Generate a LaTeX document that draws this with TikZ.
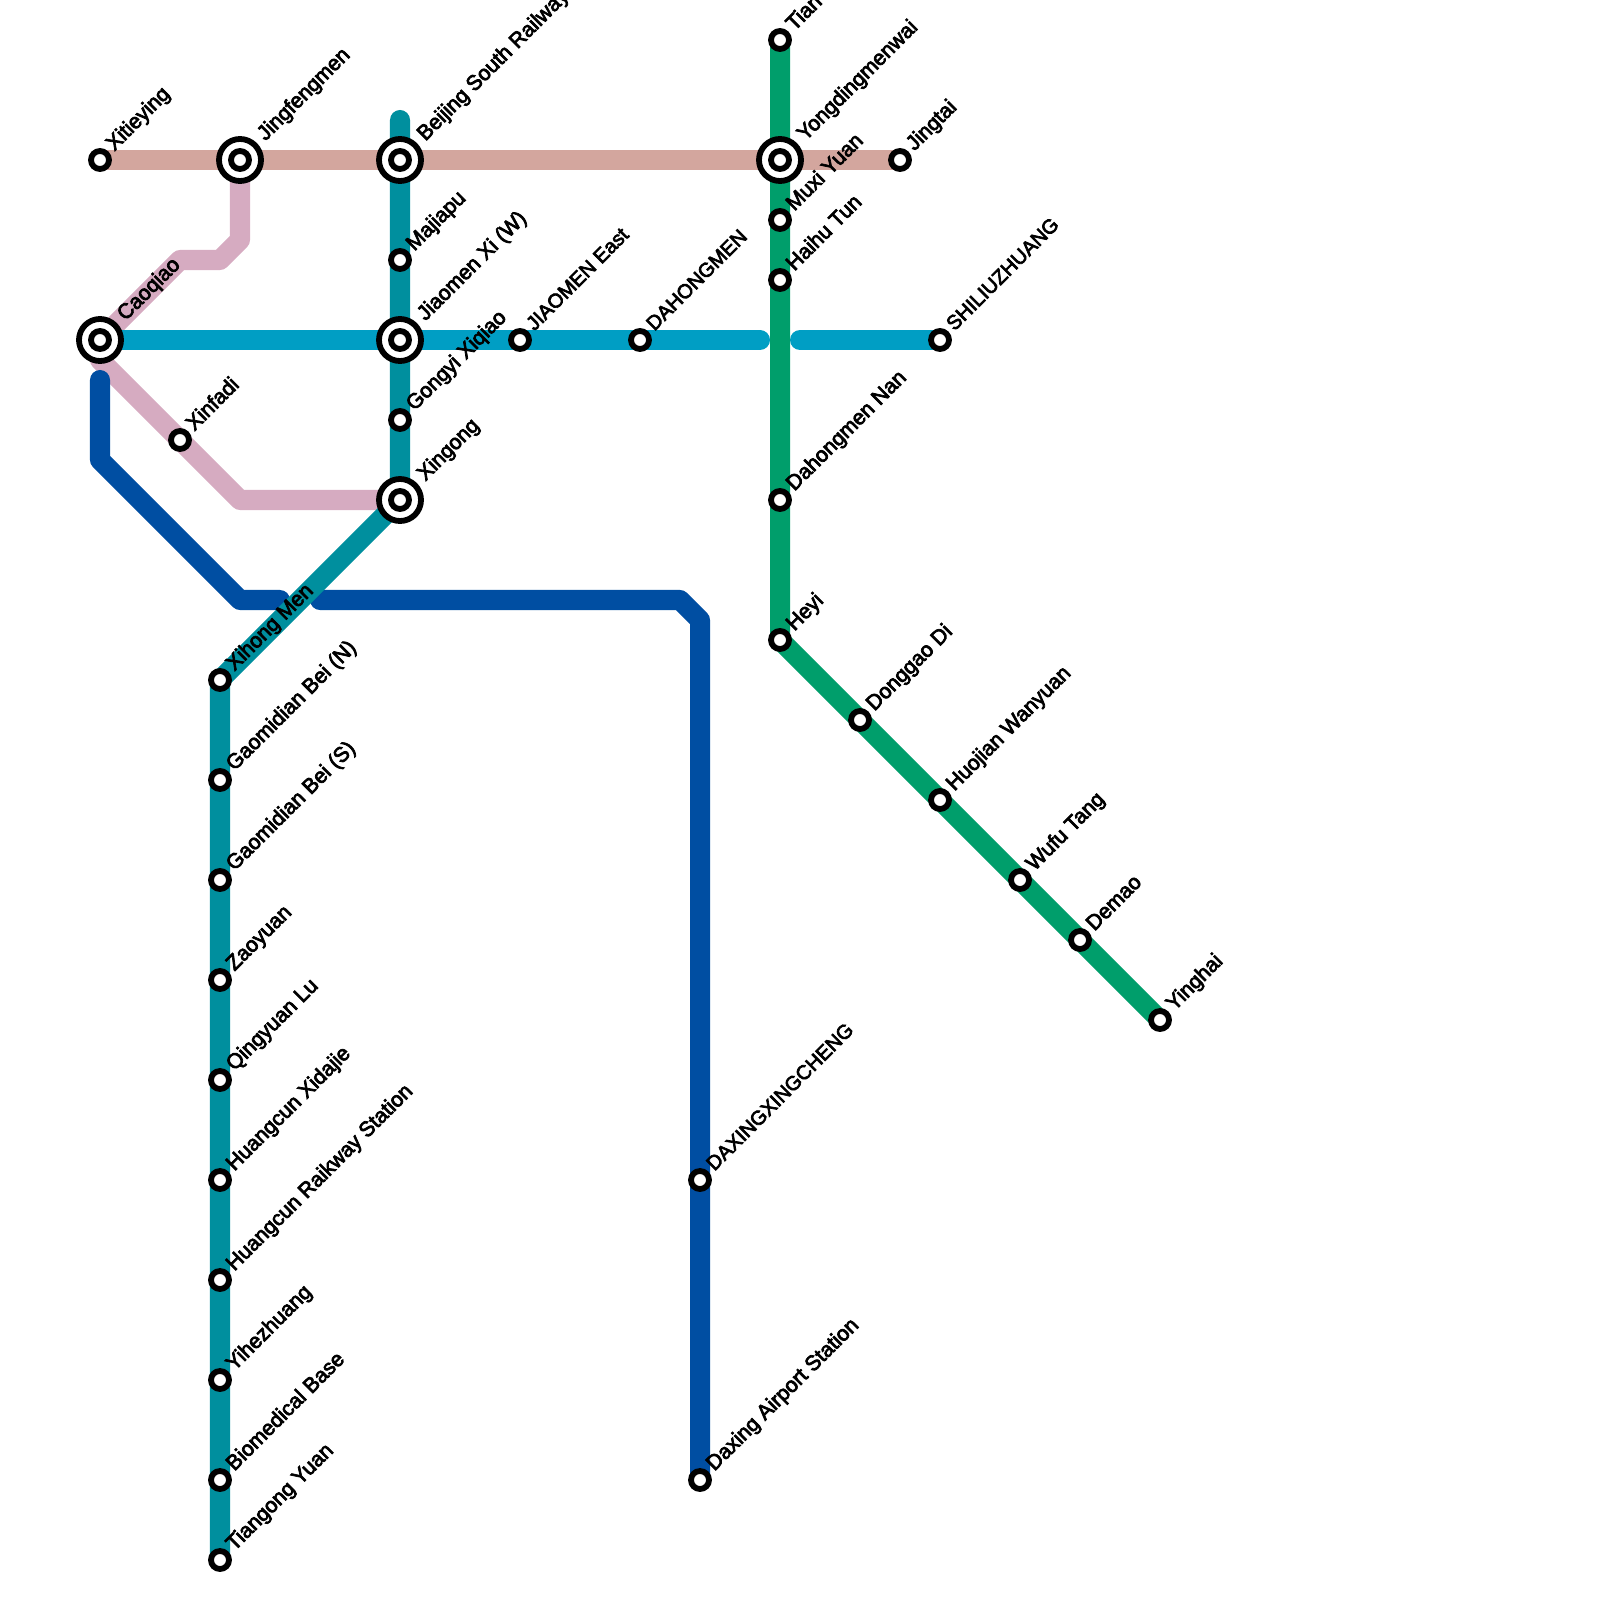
\documentclass[tikz,border=0pt]{standalone}
\usepackage{fontspec}
\setmainfont{Liberation Sans}[FakeBold=3.5]
\usetikzlibrary{backgrounds}
\definecolor{lineBrown}{HTML}{D3A69E}
\definecolor{linePink}{HTML}{D6ABC1}
\definecolor{lineTeal}{HTML}{008F9E}
\definecolor{lineCyan}{HTML}{009EC4}
\definecolor{lineBlue}{HTML}{004EA2}
\definecolor{lineGreen}{HTML}{009E6B}
\tikzset{
    metro/.style = {line width = 0.2cm, line join = round, line cap = round},
    stn/.style = {circle, draw = black, line width = 0.058cm, fill = white, inner sep = 0, outer sep = 0, minimum size = 0.18cm},
    xchg/.style = {stn, minimum size = 0.42cm},
    lbl/.style = {xshift = 0.02cm, anchor = base west, rotate = 45, inner sep = 0, font = \fontsize{6}{7}\selectfont},
    lblcaps/.style = {lbl, font = \fontsize{5.7}{7}\selectfont}
}
\begin{document}
\begin{tikzpicture}[x = 0.01cm, y = -0.01cm]
    \useasboundingbox (0, 0) rectangle (1600, 1600);
    % interchanges
    \node [xchg] (jingfengmen) at (240, 160) {};
    \node [xchg] (beijingsouth) at (400, 160) {};
    \node [xchg] (yongdingmenwai) at (780, 160) {};
    \node [xchg] (caoqiao) at (100, 340) {};
    \node [xchg] (jiaomenxi) at (400, 340) {};
    \node [xchg] (xingong) at (400, 500) {};
    \node [stn] (jingfengmenin) at (240, 160) {};
    \node [stn] (beijingsouthin) at (400, 160) {};
    \node [stn] (yongdingmenwaiin) at (780, 160) {};
    \node [stn] (caoqiaoin) at (100, 340) {};
    \node [stn] (jiaomenxiin) at (400, 340) {};
    \node [stn] (xingongin) at (400, 500) {};
    % plain stations
    \node [stn] (xitieying) at (100, 160) {};
    \node [stn] (jingtai) at (900, 160) {};
    \node [stn] (tian) at (780, 40) {};
    \node [stn] (muxiyuan) at (780, 220) {};
    \node [stn] (haihutun) at (780, 280) {};
    \node [stn] (majiapu) at (400, 260) {};
    \node [stn] (gongyixiqiao) at (400, 420) {};
    \node [stn] (xinfadi) at (180, 440) {};
    \node [stn] (jiaomeneast) at (520, 340) {};
    \node [stn] (dahongmen) at (640, 340) {};
    \node [stn] (shiliuzhuang) at (940, 340) {};
    \node [stn] (dahongmennan) at (780, 500) {};
    \node [stn] (heyi) at (780, 640) {};
    \node [stn] (donggaodi) at (860, 720) {};
    \node [stn] (huojian) at (940, 800) {};
    \node [stn] (wufutang) at (1020, 880) {};
    \node [stn] (demao) at (1080, 940) {};
    \node [stn] (yinghai) at (1160, 1020) {};
    \node [stn] (xihongmen) at (220, 680) {};
    \node [stn] (gaomidiann) at (220, 780) {};
    \node [stn] (gaomidians) at (220, 880) {};
    \node [stn] (zaoyuan) at (220, 980) {};
    \node [stn] (qingyuanlu) at (220, 1080) {};
    \node [stn] (xidajie) at (220, 1180) {};
    \node [stn] (huangcunrail) at (220, 1280) {};
    \node [stn] (yihezhuang) at (220, 1380) {};
    \node [stn] (biomedical) at (220, 1480) {};
    \node [stn] (tiangongyuan) at (220, 1560) {};
    \node [stn] (daxingxincheng) at (700, 1180) {};
    \node [stn] (daxingairport) at (700, 1480) {};
    % free ends and bends
    \coordinate (tealtop) at (400, 120);
    \coordinate (pinka) at (240, 240);
    \coordinate (pinkb) at (220, 260);
    \coordinate (pinkc) at (180, 260);
    \coordinate (pinkd) at (100, 360);
    \coordinate (pinke) at (240, 500);
    \coordinate (cyanend) at (760, 340);
    \coordinate (cyanstart) at (800, 340);
    \coordinate (bluea) at (100, 380);
    \coordinate (blueb) at (100, 460);
    \coordinate (bluec) at (240, 600);
    \coordinate (blued) at (280, 600);
    \coordinate (bluee) at (320, 600);
    \coordinate (bluef) at (680, 600);
    \coordinate (blueg) at (700, 620);
    % lines
    \begin{scope}[on background layer]
        \draw [metro, lineBrown] (xitieying.center) -- (jingtai.center);
        \draw [metro, linePink] (jingfengmen.center) -- (pinka) -- (pinkb) -- (pinkc) -- (caoqiao.center) -- (pinkd) -- (pinke) -- (xingong.center);
        \draw [metro, lineCyan] (caoqiao.center) -- (cyanend);
        \draw [metro, lineCyan] (cyanstart) -- (shiliuzhuang.center);
        \draw [metro, lineBlue] (bluea) -- (blueb) -- (bluec) -- (blued);
        \draw [metro, lineBlue] (bluee) -- (bluef) -- (blueg) -- (daxingairport.center);
        \draw [metro, lineTeal] (tealtop) -- (beijingsouth.center) -- (xingong.center) -- (xihongmen.center) -- (tiangongyuan.center);
        \draw [metro, lineGreen] (tian.center) -- (heyi.center) -- (yinghai.center);
    \end{scope}
    % labels
    \node [lbl] (xitieyingtext) at (112, 152) {Xitieying};
    \node [lbl] (jingfengmentext) at (263, 142) {Jingfengmen};
    \node [lbl] (beijingsouthtext) at (423, 142) {Beijing South Railway};
    \node [lbl] (yongdingmenwaitext) at (803, 142) {Yongdingmenwai};
    \node [lbl] (jingtaitext) at (912, 152) {Jingtai};
    \node [lbl] (tiantext) at (792, 32) {Tian};
    \node [lbl] (muxiyuantext) at (792, 212) {Muxi Yuan};
    \node [lbl] (haihutuntext) at (792, 272) {Haihu Tun};
    \node [lbl] (caoqiaotext) at (123, 322) {Caoqiao};
    \node [lbl] (majiaputext) at (412, 252) {Majiapu};
    \node [lbl] (jiaomenxitext) at (423, 322) {Jiaomen Xi (W)};
    \node [lblcaps] (jiaomeneasttext) at (532, 332) {JIAOMEN East};
    \node [lblcaps] (dahongmentext) at (652, 332) {DAHONGMEN};
    \node [lblcaps] (shiliuzhuangtext) at (952, 332) {SHILIUZHUANG};
    \node [lbl] (gongyixiqiaotext) at (412, 412) {Gongyi Xiqiao};
    \node [lbl] (xingongtext) at (423, 482) {Xingong};
    \node [lbl] (xinfaditext) at (192, 432) {Xinfadi};
    \node [lbl] (dahongmennantext) at (792, 492) {Dahongmen Nan};
    \node [lbl] (heyitext) at (792, 632) {Heyi};
    \node [lbl] (donggaoditext) at (872, 712) {Donggao Di};
    \node [lbl] (huojiantext) at (952, 792) {Huojian Wanyuan};
    \node [lbl] (wufutangtext) at (1032, 872) {Wufu Tang};
    \node [lbl] (demaotext) at (1092, 932) {Demao};
    \node [lbl] (yinghaitext) at (1172, 1012) {Yinghai};
    \node [lbl] (xihongmentext) at (232, 672) {Xihong Men};
    \node [lbl] (gaomidianntext) at (232, 772) {Gaomidian Bei (N)};
    \node [lbl] (gaomidianstext) at (232, 872) {Gaomidian Bei (S)};
    \node [lbl] (zaoyuantext) at (232, 972) {Zaoyuan};
    \node [lbl] (qingyuanlutext) at (232, 1072) {Qingyuan Lu};
    \node [lbl] (xidajietext) at (232, 1172) {Huangcun Xidajie};
    \node [lbl] (huangcunrailtext) at (232, 1272) {Huangcun Raikway Station};
    \node [lbl] (yihezhuangtext) at (232, 1372) {Yihezhuang};
    \node [lbl] (biomedicaltext) at (232, 1472) {Biomedical Base};
    \node [lbl] (tiangongyuantext) at (232, 1552) {Tiangong Yuan};
    \node [lblcaps] (daxingxinchengtext) at (712, 1172) {DAXINGXINGCHENG};
    \node [lbl] (daxingairporttext) at (712, 1472) {Daxing Airport Station};
\end{tikzpicture}
\end{document}
